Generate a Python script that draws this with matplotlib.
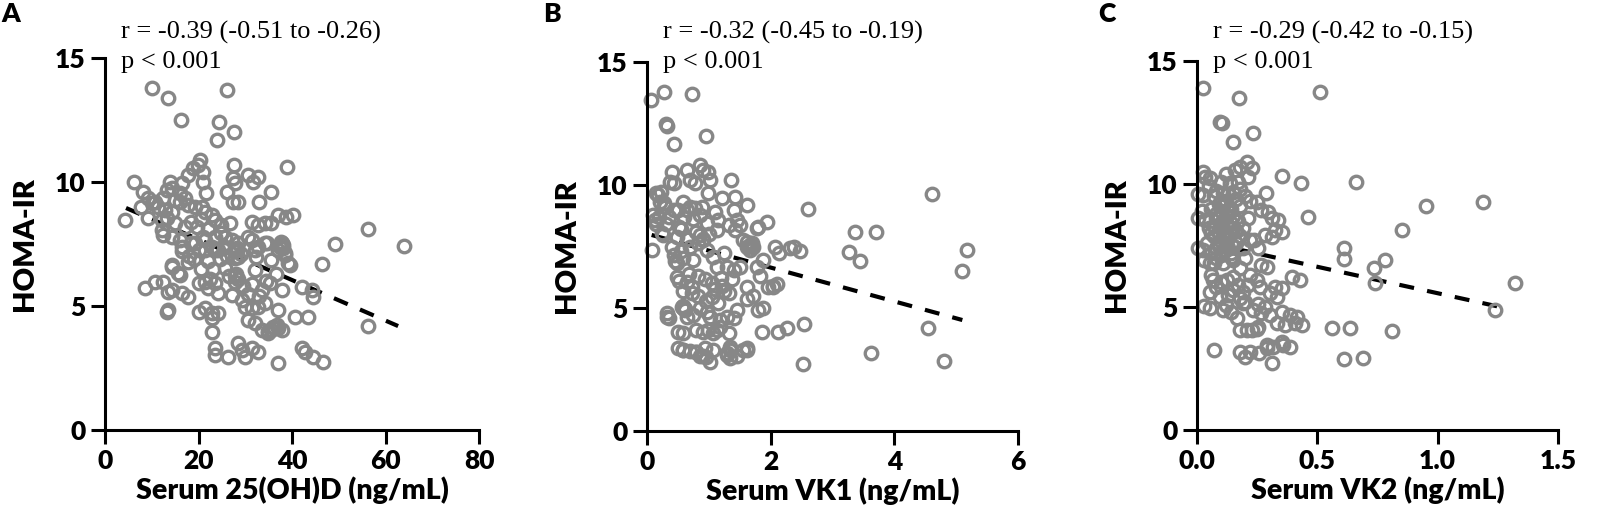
import matplotlib
matplotlib.use("Agg")
import matplotlib.pyplot as plt

W, H = 1601, 527

# ---- panel A: serum 25(OH)D vs HOMA-IR
vitd_a = [10.1, 13.4, 26.0, 16.2, 24.4, 27.7, 23.9,
          20.3, 19.8, 21.0, 18.9, 27.6, 39.0,
          6.1, 8.2, 13.9, 14.3, 16.4, 17.8, 21.0,
          27.4, 27.8, 30.6, 31.7, 32.8,
          26.0, 27.4, 28.5, 21.7, 35.6, 32.9,
          7.8, 10.0, 11.4, 12.8, 14.3, 16.0, 17.8, 19.2, 20.7, 21.4, 22.8,
          4.3, 9.3, 13.2, 15.0, 12.1, 17.1, 18.5, 19.6, 23.5, 24.9, 26.7,
          37.1, 38.8, 40.3, 31.4, 32.8, 34.2, 35.6,
          56.3, 64.0, 49.3, 46.4,
          9.3, 10.7, 12.5, 13.2, 15.0, 16.0, 17.1,
          12.1, 14.3, 16.0, 18.5, 20.0, 21.4, 22.8, 24.2, 24.9, 25.7, 27.1,
          31.4, 32.8, 34.6, 37.4, 38.1, 38.5,
          39.6, 14.3, 15.7, 32.1,
          12.5, 16.4, 17.8, 19.2, 21.4, 23.5, 23.5, 25.7, 28.2, 28.5, 28.5,
          30.6, 32.1, 32.4, 34.2, 35.6, 37.1, 37.8, 38.5, 39.2,
          14.3, 16.0, 13.5, 14.3, 16.4, 17.8, 20.0, 21.4, 22.1, 23.5, 24.2,
          25.7, 27.8, 27.8, 27.1, 29.2, 29.9, 31.4, 32.8, 34.2, 33.5, 35.3,
          37.1, 37.8, 40.6, 43.5, 42.1, 44.2, 44.5,
          8.6, 10.7, 12.5,
          13.5, 13.2, 20.0, 21.4, 22.8, 22.8, 24.2,
          30.6, 32.1, 33.5, 34.9, 35.6, 37.1, 37.8, 22.8,
          23.5, 23.5, 26.4, 28.5, 29.2, 29.9, 31.4, 32.8,
          37.1, 42.1, 42.8, 44.5, 46.7, 56.3,
          22.0, 23.0, 24.5, 26.5, 28.0, 28.5, 29.5, 30.5, 31.5, 33.0, 34.5,
          36.5, 26.0, 20.5, 19.0, 22.5,
          20.5, 22.0, 21.0, 18.0, 16.5,
          27.5, 28.3, 29.0, 27.9, 37.6, 38.0, 36.2, 34.8, 35.9, 36.8]
homa_a = [13.8, 13.4, 13.7, 12.5, 12.4, 12.0, 11.7,
          10.9, 10.7, 10.4, 10.55, 10.7, 10.6,
          10.0, 9.6, 10.0, 9.74, 9.94, 10.28, 10.0,
          10.15, 9.95, 10.28, 10.01, 10.21,
          9.61, 9.21, 9.21, 9.54, 9.61, 9.18,
          9.0, 9.14, 9.0, 8.87, 8.8, 9.21, 9.07, 9.0, 9.0, 8.8, 8.67,
          8.47, 8.53, 8.53, 8.33, 8.47, 8.2, 8.4, 8.2, 8.47, 8.27, 8.33,
          8.67, 8.6, 8.67, 8.4, 8.27, 8.33, 8.33,
          8.1, 7.4, 7.5, 6.7,
          9.34, 9.2, 9.34, 9.68, 9.27, 9.54, 9.34,
          8.06, 7.8, 7.66, 7.53, 7.26, 7.66, 7.39, 7.26, 7.93, 7.39, 7.66,
          7.66, 7.39, 7.53, 7.39, 7.32, 7.06,
          6.65, 6.65, 6.32, 6.45,
          7.86, 7.39, 6.79, 7.53, 7.26, 7.8, 7.26, 7.8, 7.26, 6.99, 7.53,
          7.8, 7.26, 6.99, 7.53, 6.85, 7.26, 7.53, 7.12, 6.72,
          6.59, 6.26, 5.58, 5.64, 5.51, 5.38, 5.91, 5.97, 5.71, 5.91, 5.51,
          6.52, 5.97, 6.2, 5.44, 5.24, 4.97, 4.91, 4.97, 5.11, 5.64, 5.91,
          4.84, 5.64, 4.57, 4.57, 5.78, 5.64, 5.38,
          5.71, 5.97, 5.97,
          4.84, 4.77, 4.77, 4.91, 4.71, 4.5, 4.71,
          4.44, 4.3, 4.03, 3.9, 4.03, 4.1, 4.03, 3.97,
          3.29, 3.02, 2.96, 3.49, 3.23, 2.96, 3.29, 3.16,
          2.69, 3.29, 3.16, 2.96, 2.76, 4.2,
          6.8, 6.5, 6.9, 6.2, 6.3, 6.1, 5.8, 5.5, 5.9, 5.4, 6.0,
          6.3, 7.0, 6.5, 6.9, 6.1,
          8.5, 8.1, 7.8, 7.0, 7.2,
          7.2, 7.35, 7.1, 6.95, 7.6, 7.45, 4.1, 4.0, 4.15, 4.25]

# ---- panel B: serum VK1 vs HOMA-IR
vk1_b = [0.06, 0.28, 0.73, 0.31, 0.32, 0.43, 0.95, 1.36, 2.6, 4.61, 3.36, 3.71,
         3.27, 3.45, 5.18, 5.1, 4.54, 4.8, 3.62, 2.53, 2.54, 2.26, 2.12, 1.86,
         1.94, 1.8, 2.37, 2.48, 2.31, 2.07, 2.14, 2.03, 2.1, 1.88, 1.62, 1.56,
         1.34, 1.34, 1.3, 0.96, 0.85, 0.79, 0.93, 0.69, 0.58, 0.5, 0.5, 0.8,
         0.99, 1.14, 0.32, 0.32, 0.08,
         0.37, 0.4, 0.43, 0.64, 0.7, 0.78, 0.86, 0.91, 0.99, 1.02, 0.99, 1.21,
         1.42, 1.61,
         0.18, 0.21, 0.29, 0.13, 0.35, 0.43, 0.51, 0.59, 0.64, 0.78, 0.89, 0.97,
         1.1, 1.15, 1.13, 1.4, 1.45, 1.5, 1.32, 1.42, 1.78, 1.61, 1.67, 1.56,
         0.26, 0.48, 0.43, 0.48, 0.59, 0.75, 0.83, 0.97, 1.07, 1.13, 1.24, 1.29,
         1.4, 1.5, 1.72, 1.78, 1.88,
         0.48, 0.51, 0.59, 0.64, 0.72, 0.83, 0.94, 1.05, 1.1, 1.21, 1.32, 1.37,
         1.61, 1.72, 1.83, 1.8, 1.96, 2.04, 1.61,
         0.35, 0.59, 0.64, 0.75, 0.86, 0.97, 1.02, 1.18, 1.29, 1.4, 1.45,
         0.59, 0.91, 1.07, 1.18, 1.32,
         0.59, 0.8, 0.91, 1.02, 1.07, 1.29, 1.34, 1.45, 1.61,
         0.5, 0.6, 0.7, 0.75, 0.85, 0.55, 0.65, 0.8, 0.9, 1.0, 0.3, 0.2,
         0.4, 0.55, 0.7, 0.6, 0.62, 0.58,
         0.14, 0.22, 0.27, 0.1, 0.15, 0.25,
         0.85, 0.9, 0.82, 0.95, 1.05, 1.2, 1.25, 1.15, 0.68, 0.72, 0.45,
         1.62, 1.66, 1.7, 0.56, 0.62]
homa_b = [13.44, 13.8, 13.7, 12.48, 12.4, 11.67, 11.99, 10.2, 9.02, 9.63, 8.07, 8.07,
          7.26, 6.91, 7.36, 6.52, 4.17, 2.86, 3.16, 2.71, 4.35, 4.17, 4.04, 4.04,
          8.48, 8.3, 7.49, 7.33, 7.43, 7.49, 7.22, 5.87, 5.98, 5.0, 3.36, 3.3,
          2.97, 3.3, 3.16, 3.0, 3.05, 3.2, 3.36, 3.25, 3.3, 3.36, 4.04, 4.1,
          4.1, 4.1, 4.78, 4.65, 7.36,
          10.13, 10.54, 10.07, 10.61, 10.2, 10.07, 10.81, 10.61, 10.54, 10.2, 9.66, 9.46,
          9.53, 9.19,
          9.59, 9.32, 9.12, 8.58, 8.71, 8.98, 8.31, 9.32, 8.98, 9.05, 9.12, 8.44,
          8.91, 8.58, 8.17, 8.98, 8.58, 8.37, 8.37, 8.17, 8.24, 7.49, 7.36, 7.76,
          7.97, 7.9, 7.15, 6.82, 7.02, 6.95, 7.63, 7.36, 7.09, 6.68, 7.22, 6.68,
          6.55, 6.68, 7.49, 6.68, 6.95,
          6.24, 6.1, 5.7, 6.04, 5.84, 5.5, 6.17, 5.43, 5.77, 5.9, 5.63, 6.17,
          5.84, 5.5, 6.31, 4.92, 5.84, 5.9, 5.37,
          4.58, 5.0, 4.64, 4.71, 5.0, 4.85, 4.64, 4.51, 4.64, 4.58, 4.92,
          3.97, 4.04, 3.97, 4.24, 3.97,
          3.3, 3.23, 3.03, 2.82, 3.3, 3.09, 3.43, 3.03, 3.3,
          9.0, 8.7, 9.1, 8.6, 8.8, 8.2, 7.8, 8.1, 7.8, 8.0, 8.4, 8.7,
          7.5, 7.3, 7.5, 5.0, 4.9, 5.1,
          9.66, 9.7, 9.26, 8.8, 8.4, 8.05,
          7.95, 7.75, 6.3, 5.3, 6.0, 6.2, 5.7, 5.2, 6.4, 5.6, 6.9,
          7.7, 7.55, 7.65, 5.05, 4.95]

# ---- panel C: serum VK2 vs HOMA-IR
vk2_c = [0.024, 0.175, 0.511, 0.095, 0.102, 0.232, 0.151, 0.355, 0.431, 0.661,
         0.463, 0.952, 1.19, 0.85, 0.61, 0.61, 0.781, 0.737, 0.74, 1.32, 1.238,
         0.393, 0.563, 0.635, 0.811, 0.61, 0.69, 0.072, 0.313,
         0.026, 0.033, 0.005, 0.005, 0.005, 0.029,
         0.285, 0.268, 0.31, 0.324, 0.282, 0.253, 0.235, 0.266, 0.324, 0.303,
         0.262, 0.355, 0.386, 0.407, 0.331, 0.255, 0.268,
         0.352, 0.386, 0.359, 0.317, 0.289, 0.258, 0.22, 0.2, 0.179, 0.289,
         0.179, 0.228, 0.248, 0.255,
         0.054, 0.026, 0.033, 0.026,
         0.158, 0.179, 0.206, 0.227, 0.213, 0.172, 0.137, 0.109, 0.151, 0.248,
         0.296, 0.338, 0.352, 0.31, 0.22,
         0.05, 0.07, 0.09, 0.06, 0.1, 0.12, 0.14, 0.16, 0.18, 0.2, 0.22, 0.08,
         0.11, 0.13, 0.15, 0.17, 0.19, 0.21, 0.05, 0.07, 0.09, 0.12, 0.14, 0.16,
         0.18, 0.04, 0.06, 0.08, 0.1, 0.12, 0.14, 0.03, 0.07, 0.11, 0.15, 0.18,
         0.2, 0.1, 0.12, 0.18, 0.08, 0.13, 0.02, 0.16, 0.19,
         0.054, 0.068, 0.054, 0.054, 0.096, 0.109, 0.123, 0.151, 0.165, 0.179,
         0.192, 0.206, 0.234, 0.248, 0.29, 0.283, 0.303, 0.331, 0.352, 0.366,
         0.414, 0.435, 0.428,
         0.06, 0.08, 0.1, 0.13, 0.15, 0.17, 0.19, 0.21, 0.12, 0.14, 0.2, 0.22,
         0.09, 0.11, 0.13, 0.1, 0.12, 0.14, 0.08, 0.1, 0.12, 0.11, 0.13, 0.09,
         0.07, 0.15, 0.11, 0.13, 0.1, 0.12, 0.08, 0.14, 0.16, 0.09, 0.11, 0.06]
homa_c = [13.89, 13.51, 13.76, 12.53, 12.47, 12.06, 11.72, 10.34, 10.03, 10.1,
          8.64, 9.11, 9.28, 8.13, 7.38, 6.95, 6.91, 6.57, 5.96, 5.96, 4.87,
          6.23, 4.16, 4.16, 4.02, 2.87, 2.94, 3.25, 2.74,
          10.5, 10.3, 9.6, 8.6, 7.38, 5.04,
          9.65, 8.94, 8.6, 8.13, 7.93, 7.38, 7.72, 6.7, 5.83, 5.56,
          5.83, 4.81, 4.67, 4.36, 4.36, 5.14, 4.74,
          3.59, 3.39, 3.46, 3.39, 3.32, 3.12, 3.18, 2.98, 3.18, 3.46,
          4.05, 4.05, 4.12, 4.19,
          10.23, 9.55, 8.54, 7.32,
          10.57, 10.7, 10.9, 10.64, 10.3, 10.1, 10.03, 9.62, 9.69, 9.28,
          8.87, 8.54, 8.06, 7.86, 7.72,
          9.9, 9.5, 9.2, 9.0, 8.9, 9.3, 9.0, 9.4, 9.1, 9.5, 9.3, 8.6,
          8.5, 8.3, 8.7, 8.5, 8.2, 8.6, 8.2, 7.9, 8.0, 7.8, 8.0, 7.6,
          7.9, 7.6, 7.2, 7.4, 7.1, 7.5, 7.2, 6.9, 6.8, 6.8, 6.9, 6.6,
          7.0, 10.1, 10.4, 9.8, 9.7, 9.6, 8.9, 8.1, 7.4,
          6.77, 6.1, 5.62, 4.95, 5.42, 4.88, 6.1, 5.69, 4.54, 5.35,
          5.15, 4.07, 4.88, 6.1, 6.64, 5.01, 4.67, 5.42, 5.76, 4.27,
          4.61, 4.27, 6.1,
          6.3, 5.8, 6.0, 5.5, 6.2, 5.9, 5.6, 5.9, 5.1, 4.8, 5.2, 6.3,
          8.0, 8.2, 7.8, 7.7, 7.6, 8.4, 8.8, 8.4, 8.0, 7.3, 7.4, 7.5,
          8.3, 7.5, 9.1, 8.9, 9.3, 8.7, 7.0, 7.05, 8.1, 8.6, 7.9, 8.0]

# linear fits: (intercept, slope, x_start, x_end)
fit_a = (9.32, -0.0818, 4.5, 62.7)
fit_b = (8.02, -0.688, 0.075, 5.1)
fit_c = (7.71, -2.15, 0.151, 1.293)

stats_r = ["r = -0.39 (-0.51 to -0.26)",
           "r = -0.32 (-0.45 to -0.19)",
           "r = -0.29 (-0.42 to -0.15)"]
stats_p = ["p < 0.001", "p < 0.001", "p < 0.001"]
letters = ["A", "B", "C"]
xlabels = ["Serum 25(OH)D (ng/mL)", "Serum VK1 (ng/mL)", "Serum VK2 (ng/mL)"]
xlims = [(0, 80), (0, 6), (0, 1.5)]
xticks = [[0, 20, 40, 60, 80], [0, 2, 4, 6], [0.0, 0.5, 1.0, 1.5]]
xticklabels = [["0", "20", "40", "60", "80"], ["0", "2", "4", "6"],
               ["0.0", "0.5", "1.0", "1.5"]]
yticks = [0, 5, 10, 15]

# axes boxes in pixels: left, top, right, bottom
boxes = [(105, 58, 479, 430), (647, 62, 1018, 431), (1197, 61, 1558, 430)]
letter_x = [1, 543, 1098]

SANS = "Lato"
SERIF = "Liberation Serif"
GREY = "#878787"

fig = plt.figure(figsize=(W / 100, H / 100), dpi=100)

datasets = [(vitd_a, homa_a, fit_a), (vk1_b, homa_b, fit_b), (vk2_c, homa_c, fit_c)]
for i, (xs, ys, fit) in enumerate(datasets):
    l, t, r, b = boxes[i]
    ax = fig.add_axes([l / W, 1 - b / H, (r - l) / W, (b - t) / H])
    ax.plot(xs, ys, linestyle="none", marker="o", markersize=9.0,
            markerfacecolor="none", markeredgecolor=GREY,
            markeredgewidth=2.4, clip_on=False, zorder=2)
    b0, b1, x0, x1 = fit
    ax.plot([x0, x1], [b0 + b1 * x0, b0 + b1 * x1], color="black",
            linewidth=3.0, dashes=(3.6, 3.2), solid_capstyle="butt",
            zorder=1.5)
    ax.set_xlim(*xlims[i])
    ax.set_ylim(0, 15)
    ax.set_xticks(xticks[i])
    ax.set_xticklabels(xticklabels[i])
    ax.set_yticks(yticks)
    for side in ("top", "right"):
        ax.spines[side].set_visible(False)
    for side in ("left", "bottom"):
        ax.spines[side].set_linewidth(2.2)
    ax.tick_params(axis="both", direction="out", length=10, width=2.2,
                   labelsize=19, pad=4)
    for lab in ax.get_xticklabels() + ax.get_yticklabels():
        lab.set_fontfamily(SANS)
        lab.set_fontweight("heavy")
    ax.set_xlabel(xlabels[i], fontsize=20.5, fontweight="heavy",
                  fontfamily=SANS, labelpad=2)
    ax.set_ylabel("HOMA-IR", fontsize=21, fontweight="heavy",
                  fontfamily=SANS, labelpad=12)

    fig.text((l + 16) / W, 1 - 39 / H, stats_r[i], fontsize=19,
             fontfamily=SERIF, va="baseline", ha="left")
    fig.text((l + 16) / W, 1 - 68 / H, stats_p[i], fontsize=19,
             fontfamily=SERIF, va="baseline", ha="left")
    fig.text(letter_x[i] / W, 1 - 22 / H, letters[i], fontsize=19,
             fontweight="heavy", fontfamily=SANS, va="baseline", ha="left")

fig.savefig("out.png", dpi=100)
